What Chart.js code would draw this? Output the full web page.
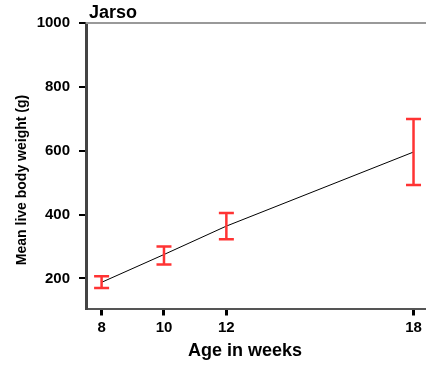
<!DOCTYPE html>
<html>
<head>
<meta charset="utf-8">
<script src="https://cdn.jsdelivr.net/npm/chart.js@4/dist/chart.umd.min.js"></script>
<style>
html,body{margin:0;padding:0;background:#fff;}
#wrap{width:426px;height:367px;}
</style>
</head>
<body>
<div id="wrap"><canvas id="c" width="426" height="367"></canvas></div>
<script>
const weeks = [8, 10, 12, 18];
const meanWeight = [188, 275, 364, 596];
const errLow = [170, 244, 323, 493];
const errHigh = [207, 300, 405, 699];
const xTicks = [8, 10, 12, 18];
const yTicks = [200, 400, 600, 800, 1000];
const chartTitle = "Jarso";
const xTitle = "Age in weeks";
const yTitle = "Mean live body weight (g)";

const FONT = '"Liberation Sans", Arial, sans-serif';

const decor = {
  id: 'decor',
  beforeDatasetsDraw(chart) {
    const {ctx, chartArea} = chart;
    ctx.save();
    ctx.strokeStyle = '#999';
    ctx.lineWidth = 2;
    ctx.beginPath();
    ctx.moveTo(chartArea.left, chartArea.top);
    ctx.lineTo(chartArea.right, chartArea.top);
    ctx.stroke();
    ctx.restore();
  },
  afterDatasetsDraw(chart) {
    const {ctx, scales} = chart;
    const x = scales.x, y = scales.y;
    ctx.save();
    ctx.strokeStyle = '#ff3333';
    ctx.lineWidth = 2.5;
    for (let i = 0; i < weeks.length; i++) {
      const px = x.getPixelForValue(weeks[i]);
      const lo = y.getPixelForValue(errLow[i]);
      const hi = y.getPixelForValue(errHigh[i]);
      ctx.beginPath();
      ctx.moveTo(px, lo); ctx.lineTo(px, hi);
      ctx.moveTo(px - 7.5, lo); ctx.lineTo(px + 7.5, lo);
      ctx.moveTo(px - 7.5, hi); ctx.lineTo(px + 7.5, hi);
      ctx.stroke();
    }
    ctx.restore();
  },
  afterDraw(chart) {
    const {ctx, chartArea} = chart;
    ctx.save();
    ctx.fillStyle = '#000';
    ctx.font = 'bold 18px ' + FONT;
    ctx.textBaseline = 'alphabetic';
    ctx.textAlign = 'left';
    ctx.fillText(chartTitle, chartArea.left + 3, 18);
    ctx.textAlign = 'center';
    ctx.fillText(xTitle, 245, 356);
    ctx.font = 'bold 14px ' + FONT;
    ctx.translate(26, 180);
    ctx.rotate(-Math.PI / 2);
    ctx.fillText(yTitle, 0, 0);
    ctx.restore();
  }
};

new Chart(document.getElementById('c'), {
  type: 'scatter',
  data: {
    datasets: [{
      data: weeks.map((w, i) => ({x: w, y: meanWeight[i]})),
      showLine: true,
      borderColor: '#000',
      borderWidth: 1,
      pointRadius: 0,
      pointHoverRadius: 0,
      fill: false
    }]
  },
  options: {
    responsive: false,
    animation: false,
    events: [],
    layout: {padding: {top: 23, right: 0, left: 0, bottom: 0}},
    plugins: {legend: {display: false}, tooltip: {enabled: false}, title: {display: false}},
    scales: {
      x: {
        type: 'linear',
        min: 7.5,
        max: 18.4,
        afterFit: s => { s.height = 58.5; },
        afterBuildTicks: s => { s.ticks = xTicks.map(v => ({value: v})); },
        border: {display: true, color: '#555', width: 2},
        grid: {drawOnChartArea: false, drawTicks: true, tickLength: 7, color: '#000', lineWidth: 3},
        ticks: {color: '#000', padding: 3, font: {family: FONT, size: 15, weight: 'bold'}, autoSkip: false, maxRotation: 0, callback: v => String(v)}
      },
      y: {
        type: 'linear',
        min: 106,
        max: 1000,
        afterFit: s => { s.width = 86; },
        afterBuildTicks: s => { s.ticks = yTicks.map(v => ({value: v})); },
        border: {display: true, color: '#444', width: 3},
        grid: {drawOnChartArea: false, drawTicks: true, tickLength: 7, color: '#000', lineWidth: 2},
        ticks: {color: '#000', padding: 9, font: {family: FONT, size: 15, weight: 'bold'}, autoSkip: false, callback: v => String(v)}
      }
    }
  },
  plugins: [decor]
});
</script>
</body>
</html>
